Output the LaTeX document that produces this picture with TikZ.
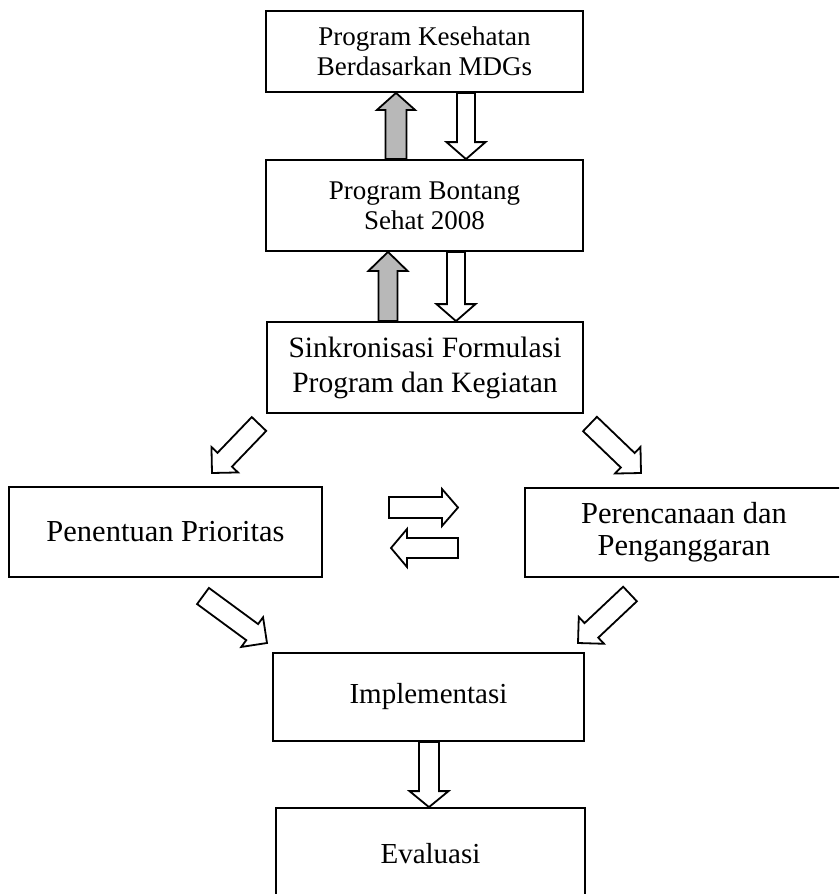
\documentclass[tikz,border=0pt]{standalone}
\usepackage{fontspec}
\setmainfont{Liberation Serif}
\usetikzlibrary{calc}

\tikzset{
  box/.style={draw, line width=1.8pt, inner sep=0pt, align=center},
  toptext/.style={font=\fontsize{27}{30}\selectfont},
  hollow/.style={draw, line width=1.8pt, fill=white, line join=miter},
  shaded/.style={draw, line width=1.8pt, fill=black!28, line join=miter},
}

% Block arrow from #2 to #3: shaft half width #4, head half width #5, head length #6
\newcommand{\blockarrow}[6][]{%
  \coordinate (ba-h) at ($(#3)!#6!(#2)$);
  \path[#1] ($(#2)!#4!90:(#3)$) -- ($(ba-h)!#4!90:(#3)$) -- ($(ba-h)!#5!90:(#3)$)
    -- (#3) -- ($(ba-h)!#5!-90:(#3)$) -- ($(ba-h)!#4!-90:(#3)$)
    -- ($(#2)!#4!-90:(#3)$) -- cycle;%
}

\begin{document}
\begin{tikzpicture}[x=1pt,y=-1pt]
\useasboundingbox (0,0) rectangle (839,894);
\fill[white] (0,0) rectangle (839,894);
\clip (0,0) rectangle (839,894);

% boxes
\node[box,toptext,minimum width=317pt,minimum height=81pt] (b1) at (424.5,51.5)
  {Program Kesehatan\\Berdasarkan MDGs};
\node[box,toptext,minimum width=317pt,minimum height=91pt] (b2) at (424.5,205.5)
  {Program Bontang\\Sehat 2008};
\node[box,font=\fontsize{29.5}{35}\selectfont,minimum width=316pt,minimum height=91pt] (b3) at (425,367.5)
  {Sinkronisasi Formulasi\\Program dan Kegiatan};
\node[box,font=\fontsize{30.5}{33}\selectfont,minimum width=313pt,minimum height=90pt] (pen) at (165.5,532)
  {Penentuan Prioritas};
\node[box,font=\fontsize{30.5}{32}\selectfont,minimum width=318pt,minimum height=89pt] (per) at (684,532.5)
  {Perencanaan dan\\Penganggaran};
\node[box,font=\fontsize{29}{33}\selectfont,minimum width=311pt,minimum height=88pt] (imp) at (428.5,697)
  {Implementasi};
\node[box,font=\fontsize{29}{33}\selectfont,minimum width=309pt,minimum height=92pt] (eva) at (430.5,854)
  {Evaluasi};

% vertical arrows between the top boxes
\coordinate (u1s) at (396,0 |- b2.north);
\coordinate (u1e) at (396,0 |- b1.south);
\blockarrow[shaded]{u1s}{u1e}{10.5pt}{19pt}{17pt}
\coordinate (d1s) at (466,0 |- b1.south);
\coordinate (d1e) at (466,0 |- b2.north);
\blockarrow[hollow]{d1s}{d1e}{9pt}{19.5pt}{17pt}

\coordinate (u2s) at (388,0 |- b3.north);
\coordinate (u2e) at (388,0 |- b2.south);
\blockarrow[shaded]{u2s}{u2e}{9.5pt}{19.5pt}{19pt}
\coordinate (d2s) at (456,0 |- b2.south);
\coordinate (d2e) at (456,0 |- b3.north);
\blockarrow[hollow]{d2s}{d2e}{9pt}{19.5pt}{17pt}

% diagonal arrows out of the synchronisation box
\coordinate (g1s) at (259,424);
\coordinate (g1e) at (212,473);
\blockarrow[hollow]{g1s}{g1e}{10pt}{18.4pt}{18.4pt}
\coordinate (g2s) at (590,424);
\coordinate (g2e) at (641,473);
\blockarrow[hollow]{g2s}{g2e}{10pt}{18.4pt}{18.4pt}

% exchange between priorities and planning
\coordinate (h1s) at (389,507.5);
\coordinate (h1e) at (458,507.5);
\blockarrow[hollow]{h1s}{h1e}{10.5pt}{18.5pt}{16pt}
\coordinate (h2s) at (458,548);
\coordinate (h2e) at (391,548);
\blockarrow[hollow]{h2s}{h2e}{10pt}{19pt}{16pt}

% diagonal arrows into implementation
\coordinate (g3s) at (203,596);
\coordinate (g3e) at (267,643);
\blockarrow[hollow]{g3s}{g3e}{10pt}{18.4pt}{18.4pt}
\coordinate (g4s) at (630,594);
\coordinate (g4e) at (578,643);
\blockarrow[hollow]{g4s}{g4e}{10pt}{18.4pt}{18.4pt}

% implementation to evaluation
\coordinate (d3s) at (429,0 |- imp.south);
\coordinate (d3e) at (429,0 |- eva.north);
\blockarrow[hollow]{d3s}{d3e}{10pt}{19.5pt}{16pt}
\end{tikzpicture}
\end{document}
